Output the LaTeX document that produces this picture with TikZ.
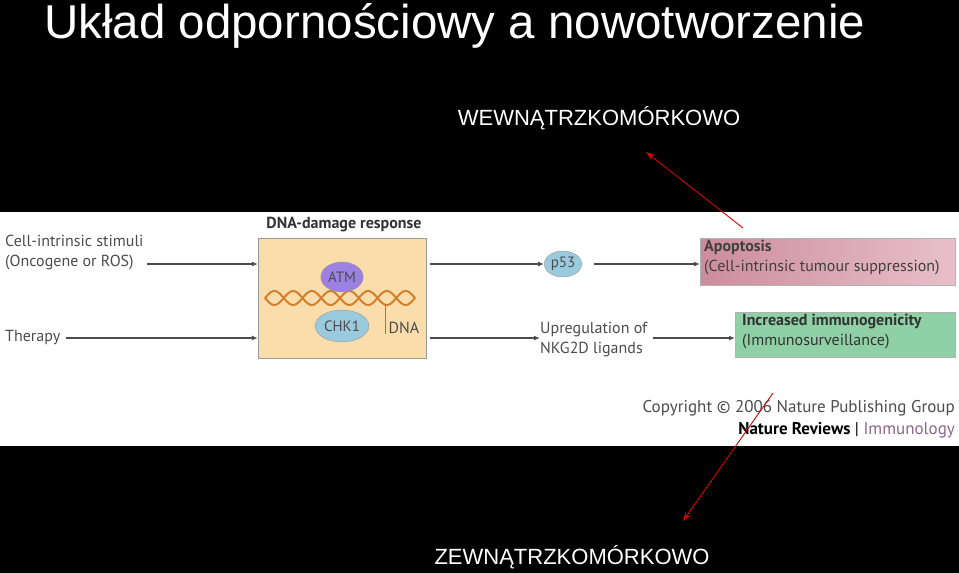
\documentclass[tikz,border=0pt]{standalone}
\usepackage{fontspec}
\setmainfont{Liberation Sans}
\newfontfamily\dfont{PT Sans}
\usetikzlibrary{arrows.meta,shapes.geometric}
\definecolor{boxfill}{HTML}{FADDAA}
\definecolor{apoL}{HTML}{CC8C9E}
\definecolor{apoR}{HTML}{E8C0CA}
\definecolor{immfill}{HTML}{8FD0A6}
\begin{document}
\begin{tikzpicture}[x=1pt,y=-1pt,
  lbl/.style={font=\dfont\fontsize{16}{20}\selectfont,text=black!70,align=left,inner sep=0},
  arr/.style={draw=black!70,line width=1.3pt,-{Latex[length=6pt,width=5pt]}},
  red/.style={draw=red!85!black,line width=0.9pt,-{Stealth[length=9pt,width=6pt]}},
  ell/.style={ellipse,draw=black!40,inner sep=1pt,font=\dfont\fontsize{15}{17}\selectfont,text=black!70}]
\useasboundingbox (0,0) rectangle (959,573);
\fill[black] (0,0) rectangle (959,573);
\fill[white] (0,212) rectangle (959,446);
\node[anchor=base west,text=white,inner sep=0,font=\fontsize{47.5}{50}\selectfont] (title) at (44,38) {Układ odpornościowy a nowotworzenie};
\node[text=white,inner sep=0,font=\fontsize{22}{26}\selectfont] (wew) at (599,118) {WEWNĄTRZKOMÓRKOWO};
\node[text=white,inner sep=0,font=\fontsize{22}{26}\selectfont] (zew) at (572,557) {ZEWNĄTRZKOMÓRKOWO};
% left labels
\node[lbl,anchor=west] (cis) at (5,253) {Cell-intrinsic stimuli\\(Oncogene or ROS)};
\node[lbl,anchor=west] (ther) at (5,338) {Therapy};
% DNA box
\node[draw=black!40,fill=boxfill,minimum width=168,minimum height=120,inner sep=0] (box) at (342,298) {};
\node[font=\dfont\bfseries\fontsize{16}{18}\selectfont,text=black!80,inner sep=0] (dtitle) at (344,225) {DNA-damage response};
\foreach \s in {0,180}{
  \draw[brown!70!orange,line width=2pt] plot[domain=265:415,samples=100] (\x,{298+7*sin((\x-265)*9.6+\s)});
}
\node[ell,fill=violet!45!blue!50,minimum width=40,minimum height=30] (atm) at (342,277) {ATM};
\node[ell,fill=cyan!40!teal!45,minimum width=46,minimum height=32] (chk) at (342,326) {CHK1};
\node[lbl] (dna) at (404,328) {DNA};
\draw[black!50,line width=0.5pt] (385,304) -- (385,334);
\draw[arr] (cis.east|-0,264) ++(3,0) coordinate (c1) -- (box.west|-c1);
\draw[arr] (ther.east) ++(6,0) coordinate (c2) -- (box.west|-c2);
% middle
\node[ell,fill=cyan!40!teal!45,minimum width=36,minimum height=26] (p53) at (563,264) {p53};
\node[lbl,anchor=west] (up) at (540,340) {Upregulation of\\NKG2D ligands};
\draw[arr] (box.east|-c1) ++(4,0) -- (p53.west);
\draw[arr] (box.east|-c2) ++(4,0) -- (up.west|-c2);
% right boxes
\node[draw=black!30,left color=apoL,right color=apoR,minimum width=255,minimum height=47,anchor=north west,inner sep=0] (apo) at (700,238) {};
\node[lbl,anchor=north west,text=black!75] (apot) at (704,240) {{\bfseries Apoptosis}\\(Cell-intrinsic tumour suppression)};
\node[draw=black!30,fill=immfill,minimum width=220,minimum height=45,anchor=north west,inner sep=0] (imm) at (735,312) {};
\node[lbl,anchor=north west,text=black!80] (immt) at (742,314) {{\bfseries Increased immunogenicity}\\(Immunosurveillance)};
\draw[arr] (p53.east) ++(12,0) -- (apo.west|-p53);
\draw[arr] (up.east|-c2) ++(5,0) -- (imm.west|-c2);
% copyright
\node[lbl,anchor=east,align=right,font=\dfont\fontsize{17}{20}\selectfont] (copy) at (955,408) {Copyright © 2006 Nature Publishing Group};
\node[lbl,anchor=east,align=right,text=black,font=\dfont\fontsize{17}{20}\selectfont] (nr) at (955,430) {{\bfseries Nature Reviews} | \textcolor{violet!50!black!60}{Immunology}};
% red arrows
\coordinate (r1) at (743,228);
\coordinate (r2) at (773,393);
\draw[red] (r1) -- (646,152) coordinate (e1);
\draw[red] (r2) -- (683,521) coordinate (e2);
\end{tikzpicture}
\end{document}
